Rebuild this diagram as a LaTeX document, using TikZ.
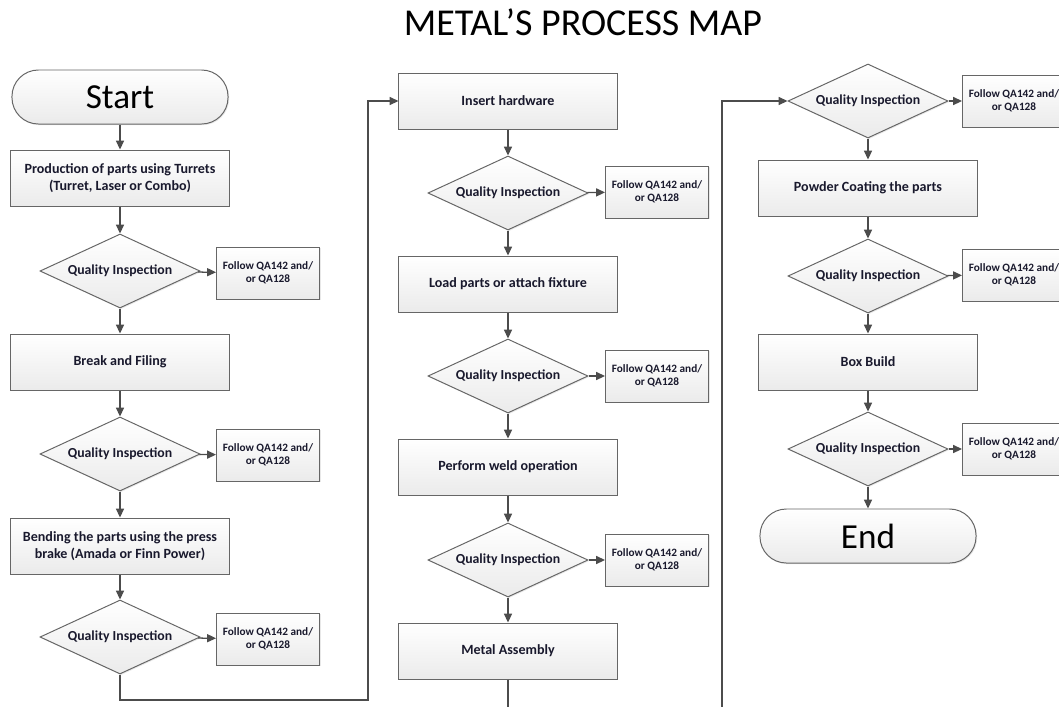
\documentclass[tikz,border=0pt]{standalone}
\usepackage{fontspec}
\setmainfont{Carlito}
\usepackage{xcolor}
\usetikzlibrary{positioning,arrows.meta,shapes.geometric,shadows}
\definecolor{boxtext}{RGB}{25,25,45}

\begin{document}
\begin{tikzpicture}[x=0.025cm, y=-0.025cm,
  shade/.style={draw=black!60, line width=0.7pt, top color=white, bottom color=gray!16,
             drop shadow={opacity=0.18, shadow xshift=0.8pt, shadow yshift=-0.8pt}},
  term/.style={shade, rectangle, rounded corners=0.66cm, minimum width=5.4cm,
             minimum height=1.35cm, font=\fontsize{25}{29}\selectfont},
  task/.style={shade, rectangle, align=center, minimum width=5.45cm, minimum height=1.4cm,
             font=\fontsize{10}{12.5}\selectfont\bfseries, text=boxtext},
  qi/.style={shade, diamond, aspect=2.16, minimum width=4cm, minimum height=1.85cm,
             inner sep=0pt, font=\fontsize{9.8}{12}\selectfont\bfseries, text=boxtext},
  note/.style={shade, rectangle, align=center, minimum width=2.575cm, minimum height=1.3cm,
             font=\fontsize{8}{9.5}\selectfont\bfseries, text=boxtext},
  arr/.style={-{Triangle[length=2.2mm,width=2mm]}, line width=0.9pt, black!70},
]
\path[use as bounding box] (0,0) rectangle (1059,706);
\clip (0,0) rectangle (1059,706);

% --- title ---
\node (title) at (583,22) {\fontsize{27}{31}\selectfont METAL’S PROCESS MAP};

% --- column 1 : cutting and bending ---
\node[term] (start) at (120,97) {Start};
\node[task] (prod)  at (120,178) {Production of parts using Turrets\\(Turret, Laser or Combo)};
\node[qi]   (q1)    at (120,271) {Quality Inspection};
\node[note] (n1)    at (268,273) {Follow QA142 and/\\or QA128};
\node[task] (brk)   at (120,362) {Break and Filing};
\node[qi]   (q2)    at (120,454) {Quality Inspection};
\node[note] (n2)    at (268,455) {Follow QA142 and/\\or QA128};
\node[task] (bend)  at (120,546) {Bending the parts using the press\\brake (Amada or Finn Power)};
\node[qi]   (q3)    at (120,637) {Quality Inspection};
\node[note] (n3)    at (268,639) {Follow QA142 and/\\or QA128};

% --- column 2 : hardware, welding, assembly ---
\node[task] (ins)   at (508,101) {Insert hardware};
\node[qi]   (q4)    at (508,193) {Quality Inspection};
\node[note] (n4)    at (657,192) {Follow QA142 and/\\or QA128};
\node[task] (load)  at (508,284) {Load parts or attach fixture};
\node[qi]   (q5)    at (508,376) {Quality Inspection};
\node[note] (n5)    at (657,376) {Follow QA142 and/\\or QA128};
\node[task] (weld)  at (508,467) {Perform weld operation};
\node[qi]   (q6)    at (508,560) {Quality Inspection};
\node[note] (n6)    at (657,560) {Follow QA142 and/\\or QA128};
\node[task] (asm)   at (508,651) {Metal Assembly};

% --- column 3 : finishing ---
\node[qi]   (q7)    at (868,101) {Quality Inspection};
\node[note] (n7)    at (1014,101) {Follow QA142 and/\\or QA128};
\node[task] (pwd)   at (868,188) {Powder Coating the parts};
\node[qi]   (q8)    at (868,276) {Quality Inspection};
\node[note] (n8)    at (1014,275) {Follow QA142 and/\\or QA128};
\node[task] (box)   at (868,362) {Box Build};
\node[qi]   (q9)    at (868,449) {Quality Inspection};
\node[note] (n9)    at (1014,449) {Follow QA142 and/\\or QA128};
\node[term] (end)   at (868,536) {End};

% --- arrows ---
\draw[arr] (start) -- (prod);
\draw[arr] (prod) -- (q1);
\draw[arr] (q1) -- (n1);
\draw[arr] (q1) -- (brk);
\draw[arr] (brk) -- (q2);
\draw[arr] (q2) -- (n2);
\draw[arr] (q2) -- (bend);
\draw[arr] (bend) -- (q3);
\draw[arr] (q3) -- (n3);

\draw[arr] (ins) -- (q4);
\draw[arr] (q4) -- (n4);
\draw[arr] (q4) -- (load);
\draw[arr] (load) -- (q5);
\draw[arr] (q5) -- (n5);
\draw[arr] (q5) -- (weld);
\draw[arr] (weld) -- (q6);
\draw[arr] (q6) -- (n6);
\draw[arr] (q6) -- (asm);

\draw[arr] (q7) -- (n7);
\draw[arr] (q7) -- (pwd);
\draw[arr] (pwd) -- (q8);
\draw[arr] (q8) -- (n8);
\draw[arr] (q8) -- (box);
\draw[arr] (box) -- (q9);
\draw[arr] (q9) -- (n9);
\draw[arr] (q9) -- (end);

% column links (the second one runs below the page)
\coordinate (lowA) at (368,700);
\coordinate (lowB) at (722,730);
\draw[arr] (q3.south) |- (lowA) |- (ins.west);
\draw[arr] (asm.south) |- (lowB) |- (q7.west);

\end{tikzpicture}
\end{document}
